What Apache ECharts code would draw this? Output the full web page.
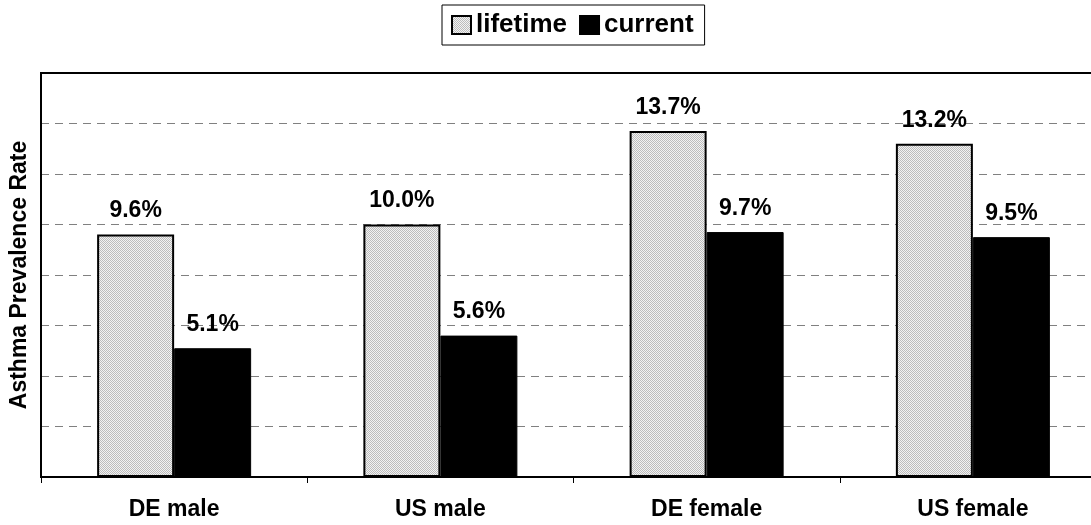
<!DOCTYPE html>
<html lang="en">
<head>
    <meta charset="UTF-8">
    <title>Asthma Prevalence Rate</title>
    <script type="text/javascript" src="https://cdn.jsdelivr.net/npm/echarts@6/dist/echarts.min.js"></script>
    <style>
        html, body { margin: 0; padding: 0; background: #fff; }
    </style>
</head>
<body>
<div id="main" style="width: 1091px;height:525px;"></div>

<script type="text/javascript">
    // data
    var categories = ['DE male', 'US male', 'DE female', 'US female'];
    var lifetime = [9.6, 10.0, 13.7, 13.2];
    var current = [5.1, 5.6, 9.7, 9.5];

    var fontName = '"Liberation Sans", Arial, sans-serif';

    // small dotted fill for the "lifetime" bars
    var cv = document.createElement('canvas');
    cv.width = 2;
    cv.height = 2;
    var ctx = cv.getContext('2d');
    ctx.fillStyle = '#f2f2f2';
    ctx.fillRect(0, 0, 2, 2);
    ctx.fillStyle = '#bcbcbc';
    ctx.fillRect(0, 0, 1, 1);
    ctx.fillRect(1, 1, 1, 1);
    var dotted = { image: cv, repeat: 'repeat' };

    var barLabel = {
        show: true,
        position: 'top',
        distance: 12,
        color: '#000',
        fontFamily: fontName,
        fontWeight: 'bold',
        fontSize: 23,
        formatter: function (p) { return p.value.toFixed(1) + '%'; }
    };

    var myChart = echarts.init(document.getElementById('main'));
    myChart.setOption({
        animation: false,
        textStyle: { fontFamily: fontName },
        legend: {
            left: 442,
            top: 5,
            padding: [7, 11, 7, 9],
            itemGap: 12,
            itemWidth: 19,
            itemHeight: 18,
            borderColor: '#000',
            borderWidth: 1,
            icon: 'rect',
            textStyle: { fontSize: 26, fontWeight: 'bold', color: '#000', fontFamily: fontName },
            data: ['lifetime', 'current']
        },
        grid: {
            left: 41,
            right: -15,
            top: 73,
            bottom: 48,
            outerBoundsMode: 'none',
            containLabel: false,
            show: true,
            borderColor: '#000',
            borderWidth: 2
        },
        xAxis: {
            type: 'category',
            data: categories,
            axisLine: { lineStyle: { color: '#000', width: 2 } },
            axisTick: { show: true, length: 6, lineStyle: { color: '#000', width: 1 } },
            axisLabel: {
                color: '#000',
                fontSize: 23,
                fontWeight: 'bold',
                margin: 21,
                fontFamily: fontName
            }
        },
        yAxis: {
            type: 'value',
            min: 0,
            max: 16,
            interval: 2,
            name: 'Asthma Prevalence Rate',
            nameLocation: 'middle',
            nameGap: 10,
            nameTextStyle: { color: '#000', fontSize: 23, fontWeight: 'bold', fontFamily: fontName },
            axisLine: { show: true, lineStyle: { color: '#000', width: 2 } },
            axisTick: { show: false },
            axisLabel: { show: false },
            splitLine: {
                showMinLine: false,
                showMaxLine: false,
                lineStyle: { color: '#808080', width: 1, type: [8, 6] }
            }
        },
        series: [{
            name: 'lifetime',
            type: 'bar',
            data: lifetime,
            barWidth: 77,
            barGap: '0%',
            itemStyle: { color: dotted, borderColor: '#000', borderWidth: 2 },
            label: barLabel
        }, {
            name: 'current',
            type: 'bar',
            data: current,
            barWidth: 77,
            barGap: '0%',
            itemStyle: { color: '#000', borderColor: '#000', borderWidth: 1 },
            label: barLabel
        }]
    });
</script>
</body>
</html>
